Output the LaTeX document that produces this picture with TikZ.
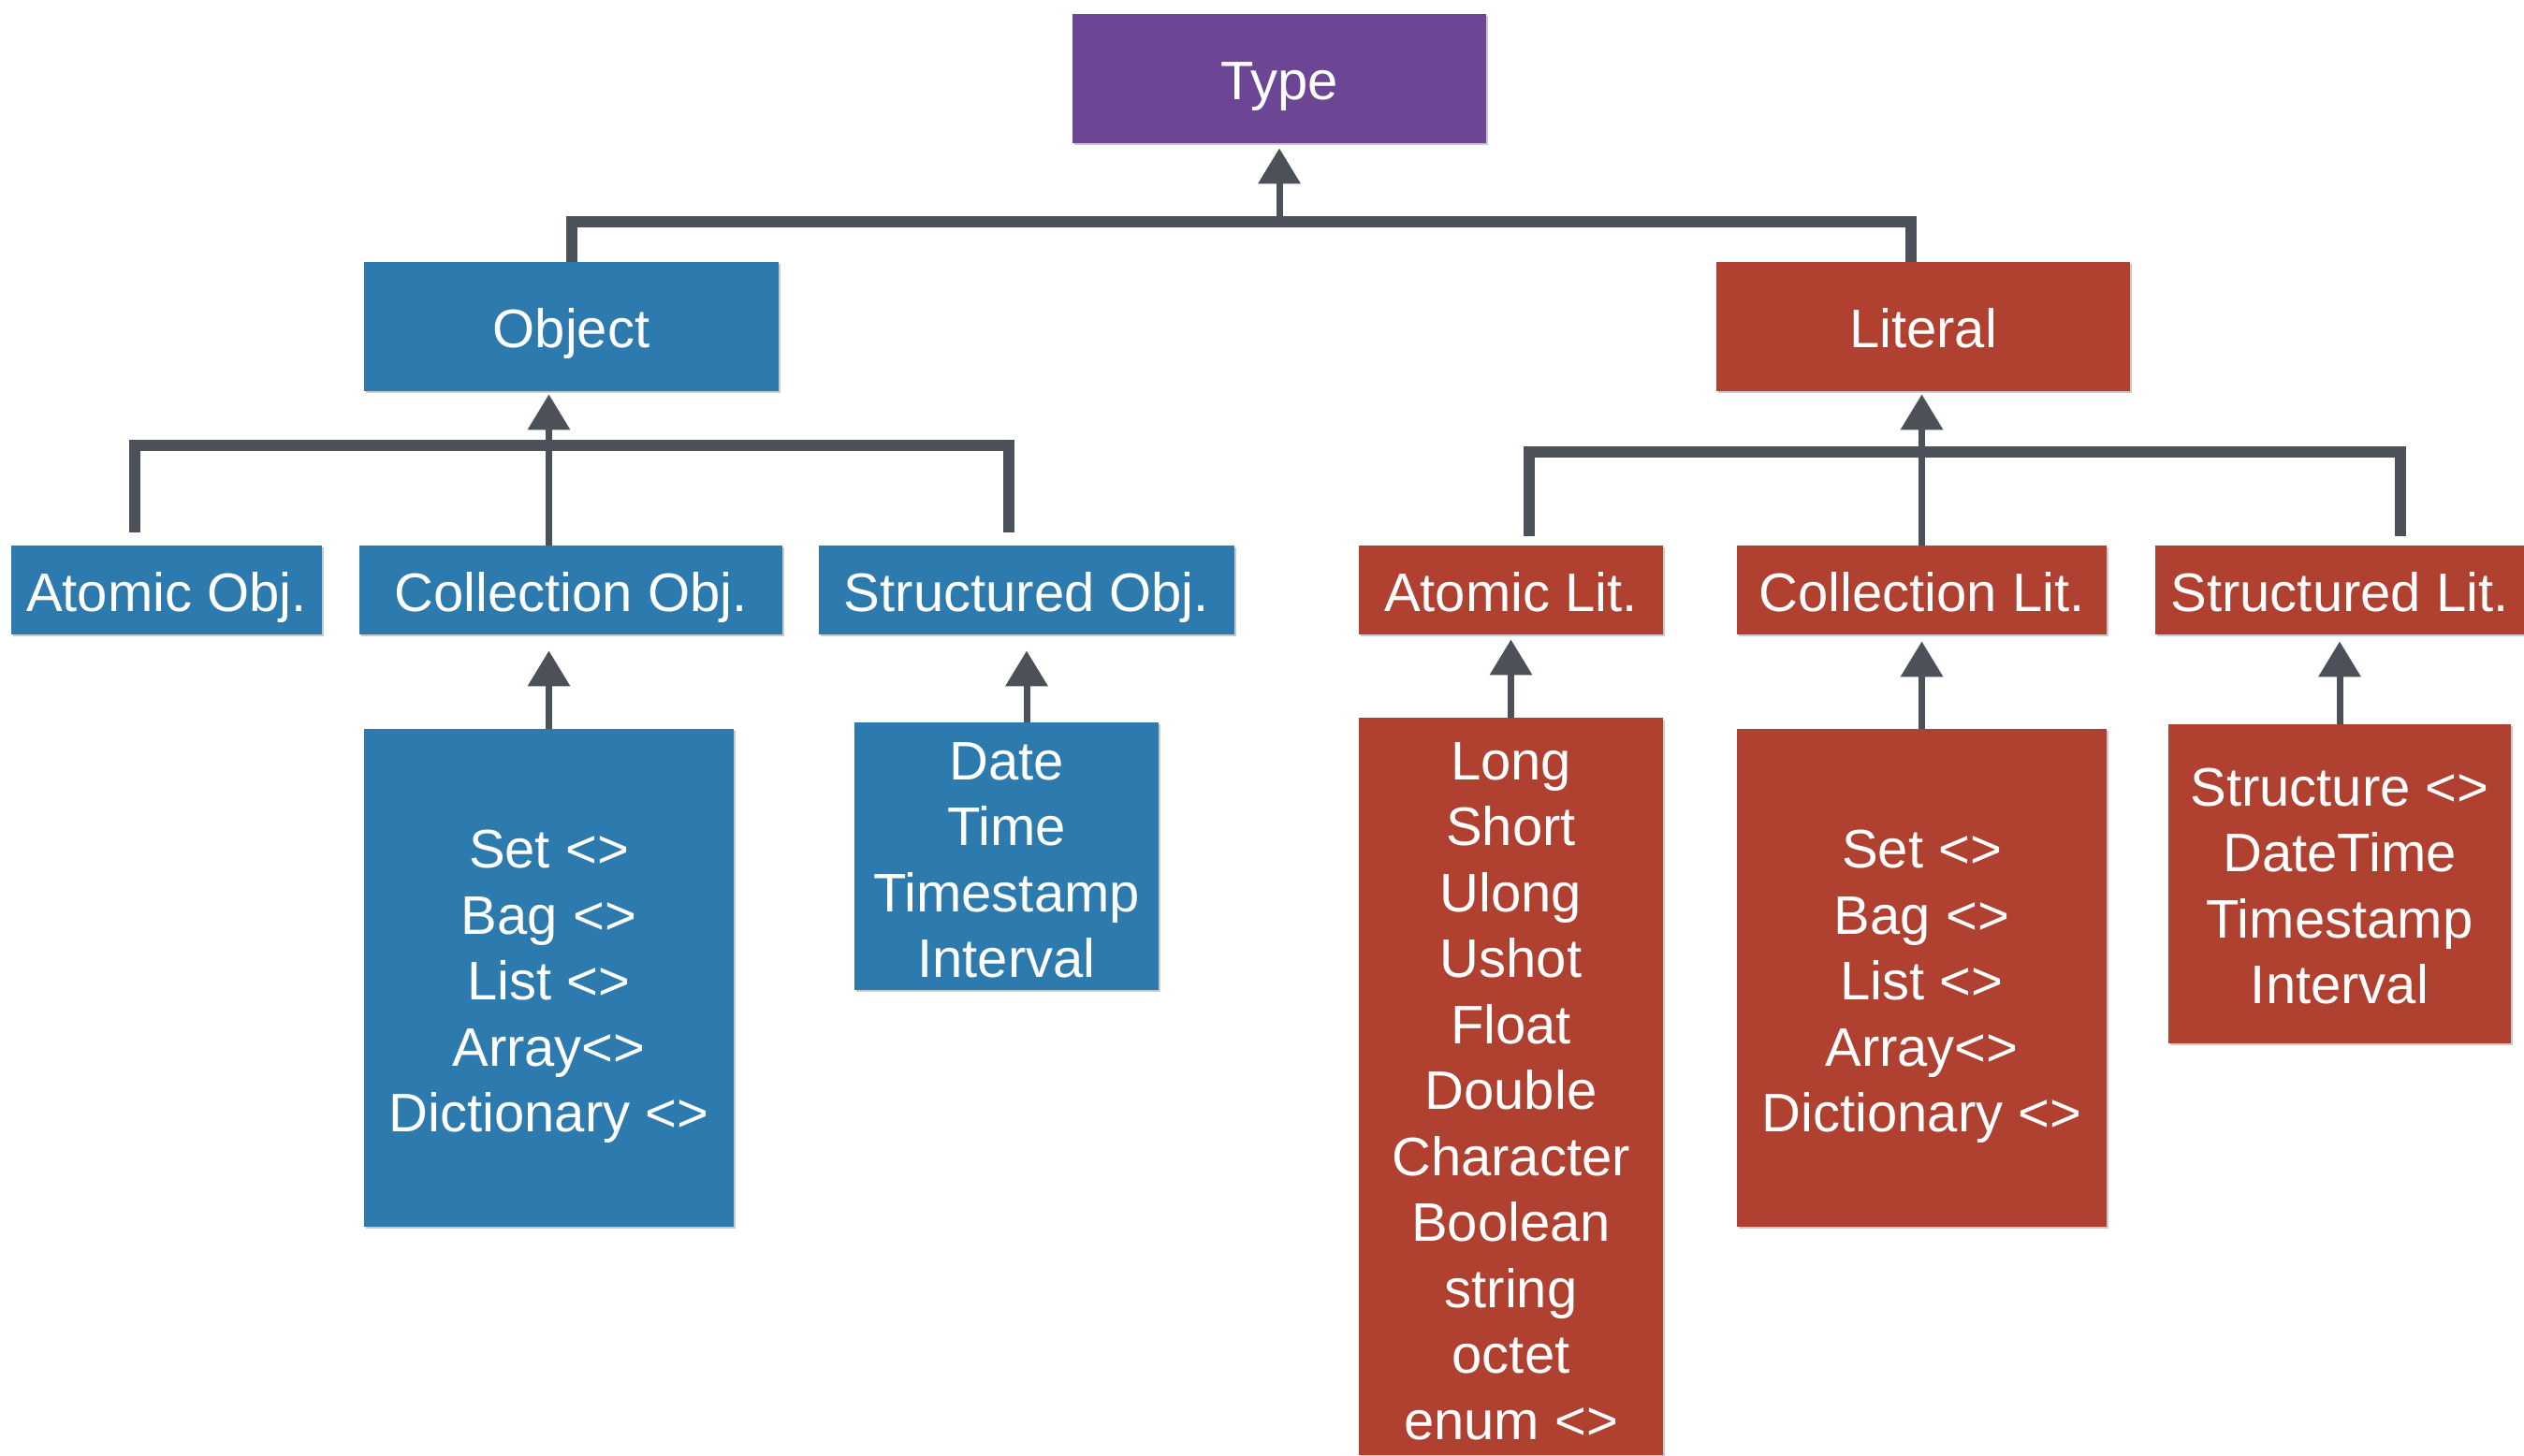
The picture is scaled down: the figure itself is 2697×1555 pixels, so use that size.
\documentclass[tikz,border=0pt]{standalone}
\usepackage{fontspec}
\setmainfont{Liberation Sans}
\usetikzlibrary{arrows.meta,calc,shadows}
\definecolor{typepurple}{RGB}{108,70,148}
\definecolor{objblue}{RGB}{45,123,174}
\definecolor{litred}{RGB}{176,64,48}
\definecolor{linegray}{RGB}{76,81,89}
\newcommand\padtop[1]{\rule{0pt}{#1}}
\tikzset{
  box/.style={rectangle, inner sep=0pt, text=white, align=center,
    font=\fontsize{29}{35.25}\selectfont,
    drop shadow={shadow xshift=0.8pt, shadow yshift=-1.2pt, opacity=0.35, fill=black!60}},
  oneline/.style={text height=22.8pt, text depth=0pt},
  purplebox/.style={box, fill=typepurple},
  bluebox/.style={box, fill=objblue},
  redbox/.style={box, fill=litred},
  bar/.style={draw=linegray, line width=6pt, line join=miter},
  stem/.style={draw=linegray, line width=3.5pt, -{Triangle[width=22pt,length=19pt]}},
}
\begin{document}
\begin{tikzpicture}[x=0.5pt,y=-0.5pt]
\useasboundingbox (0,0) rectangle (2697,1555);
% top level
\node[purplebox, oneline, minimum width=221pt, minimum height=69pt] (type) at (1367,84) {Type};
\node[bluebox, oneline, minimum width=221.5pt, minimum height=69pt] (obj) at (610.5,349) {Object};
\node[redbox, oneline, minimum width=221pt, minimum height=69pt] (lit) at (2055,349) {Literal};
% second level
\node[bluebox, oneline, minimum width=166pt, minimum height=47.5pt] (aobj) at (178,630.5) {Atomic Obj.};
\node[bluebox, oneline, minimum width=226pt, minimum height=47.5pt] (cobj) at (610,630.5) {Collection Obj.};
\node[bluebox, oneline, minimum width=222pt, minimum height=47.5pt] (sobj) at (1097,630.5) {Structured Obj.};
\node[redbox, oneline, minimum width=162.5pt, minimum height=47.5pt] (alit) at (1614.5,630.5) {Atomic Lit.};
\node[redbox, oneline, minimum width=197.5pt, minimum height=47.5pt] (clit) at (2053.5,630.5) {Collection Lit.};
\node[redbox, oneline, minimum width=197pt, minimum height=47.5pt] (slit) at (2500,630.5) {Structured Lit.};
% third level
\node[bluebox, minimum width=197.5pt, minimum height=266pt] (cobjsub) at (586.5,1045)
  {\padtop{29.6pt}Set <>\\Bag <>\\List <>\\Array<>\\Dictionary <>};
\node[bluebox, minimum width=162.5pt, minimum height=143pt] (sobjsub) at (1075.5,915)
  {\padtop{24.4pt}Date\\Time\\Timestamp\\Interval};
\node[redbox, minimum width=162.5pt, minimum height=394pt, anchor=north] (alitsub) at (1614.5,767)
  {\padtop{24.4pt}Long\\Short\\Ulong\\Ushot\\Float\\Double\\Character\\Boolean\\string\\octet\\enum <>};
\node[redbox, minimum width=197.5pt, minimum height=266pt] (clitsub) at (2053.5,1045)
  {\padtop{29.6pt}Set <>\\Bag <>\\List <>\\Array<>\\Dictionary <>};
\node[redbox, minimum width=183pt, minimum height=170.5pt] (slitsub) at (2500,944.5)
  {\padtop{22.8pt}Structure <>\\DateTime\\Timestamp\\Interval};
% connectors: top
\coordinate (tL) at (611,237);
\coordinate (tR) at (2042,237);
\coordinate (tM) at (1367,237);
\draw[bar] (obj.north -| tL) -- (tL) -- (tR) -- (lit.north -| tR);
\draw[stem] (tM) -- ($(type.south)+(0,5)$);
% object level
\coordinate (oL) at (144,476);
\coordinate (oR) at (1078,476);
\draw[bar] ($(aobj.north -| oL)+(0,-14)$) -- (oL) -- (oR) -- ($(sobj.north -| oR)+(0,-14)$);
\draw[stem] (cobj.north -| cobjsub.north) -- ($(obj.south -| cobjsub.north)+(0,3)$);
% literal level
\coordinate (lL) at (1634,483);
\coordinate (lR) at (2565,483);
\draw[bar] ($(alit.north -| lL)+(0,-10)$) -- (lL) -- (lR) -- ($(slit.north -| lR)+(0,-10)$);
\draw[stem] (clit.north) -- ($(lit.south -| clit.north)+(0,3)$);
% sub arrows
\draw[stem] (cobjsub.north) -- ($(cobj.south -| cobjsub.north)+(0,17)$);
\draw[stem] (sobjsub.north -| sobj.south) -- ($(sobj.south)+(0,17)$);
\draw[stem] (alitsub.north) -- ($(alit.south -| alitsub.north)+(0,5)$);
\draw[stem] (clitsub.north) -- ($(clit.south)+(0,7)$);
\draw[stem] (slitsub.north) -- ($(slit.south)+(0,7)$);
\end{tikzpicture}
\end{document}
